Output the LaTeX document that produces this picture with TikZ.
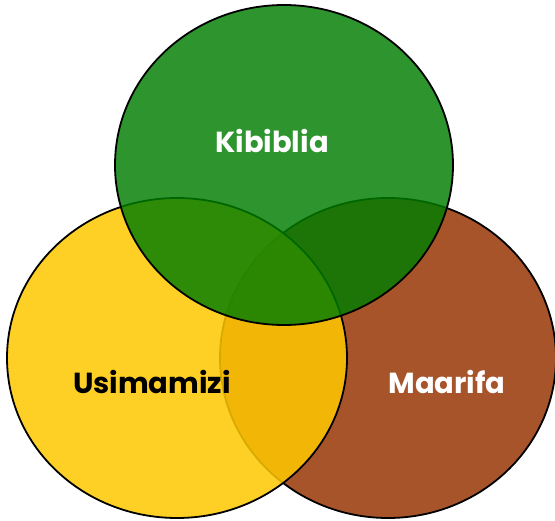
\documentclass[tikz,border=0pt]{standalone}
\usepackage{fontspec}
\setmainfont{Poppins}
\definecolor{vert}{RGB}{0,125,0}
\definecolor{jaune}{RGB}{254,200,0}
\definecolor{brun}{RGB}{168,84,42}
\tikzset{mot/.style={font=\fontsize{29}{32}\selectfont\bfseries}}

\begin{document}
\begin{tikzpicture}[x=1pt,y=-1pt]
\useasboundingbox (0,0) rectangle (555,521);
\draw [line width=1.8pt, fill=brun] (388,358) ellipse [x radius=168, y radius=160];
\draw [line width=1.8pt, fill=jaune, fill opacity=0.85] (177,358) ellipse [x radius=170, y radius=160];
\draw [line width=1.8pt, fill=vert, fill opacity=0.82] (284,165) ellipse [x radius=169, y radius=160];
\node [mot, white] (kibiblia) at (272,141) {Kibiblia};
\node [mot, black] (usimamizi) at (152,382) {Usimamizi};
\node [mot, white] (maarifa) at (447,382) {Maarifa};

\end{tikzpicture}
\end{document}
